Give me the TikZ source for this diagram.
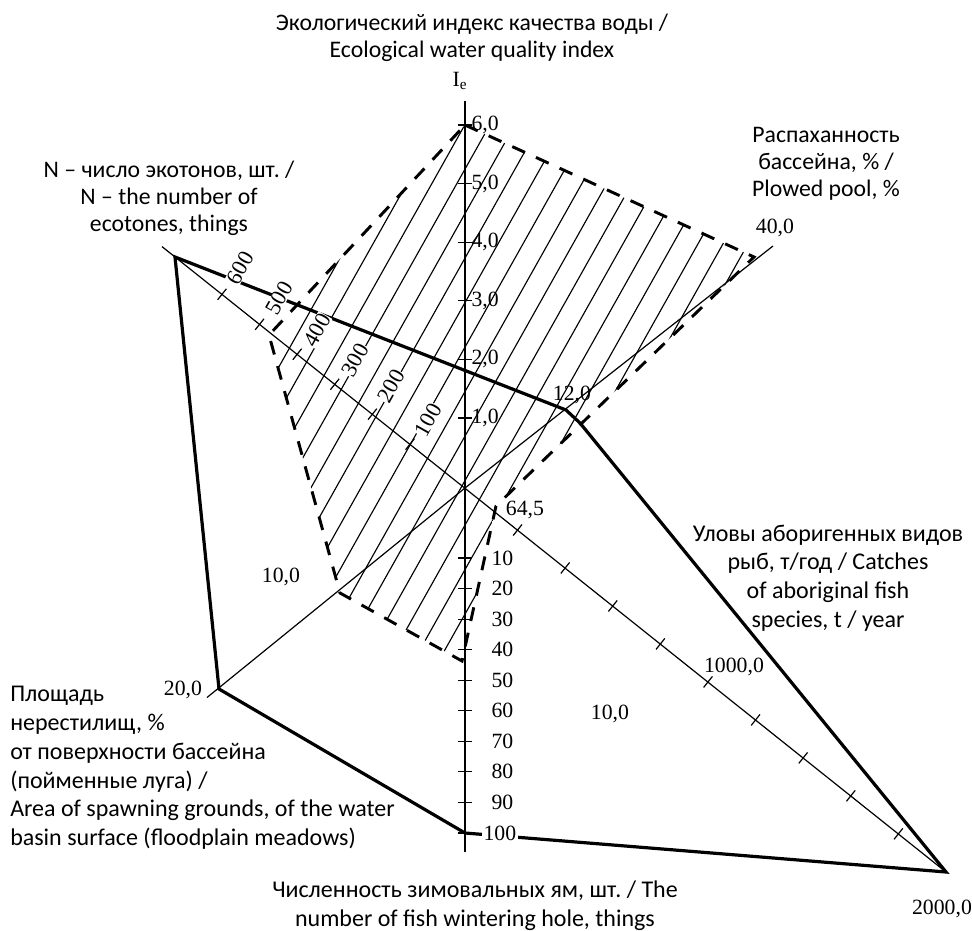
\documentclass[tikz,border=0pt]{standalone}
\usepackage{fontspec}
\setmainfont{Liberation Serif}
\newfontfamily\capfont{Carlito}
\frenchspacing
\tikzset{
    axis_line/.style = {draw=black, line width=0.9pt},
    ie_axis/.style = {draw=black, line width=1.3pt},
    data_line/.style = {draw=black, line width=2.4pt, line join=miter},
    hatch_line/.style = {draw=black, line width=0.85pt},
    zone_line/.style = {draw=black, line width=2.2pt, dash pattern=on 10.5pt off 9pt},
    tick_mark/.style = {draw=black, line width=0.9pt},
    num/.style = {inner sep=1pt, font=\fontsize{16.3}{19}\selectfont},
    wnum/.style = {num, fill=white},
    hnum/.style = {num, fill=white, rotate=60.7, inner sep=0.3pt, font=\fontsize{16.8}{19}\selectfont},
    caption/.style = {align=center, inner sep=0pt, font=\capfont\fontsize{18}{21.6}\selectfont},
    top_caption/.style = {caption, font=\capfont\fontsize{17.8}{20.2}\selectfont}
}
\begin{document}
\begin{tikzpicture}[x=0.75pt, y=-0.75pt]
            \useasboundingbox (0,0) rectangle (972,931);
            \coordinate (O) at (465,488);
            \coordinate (Ntop) at (175,257);
            \coordinate (Nend) at (162,246.6);
            \coordinate (Cend) at (946,872);
            \coordinate (Sv) at (219,689);
            \coordinate (Send) at (207,697.5);
            \coordinate (Pv) at (566,410);
            \coordinate (Pbend) at (580,423);
            \coordinate (Pend) at (773,246);
            \coordinate (Vtop) at (465,101);
            \coordinate (Vbot) at (465,852);
            \coordinate (Vh) at (465,833);
            \coordinate (Z1) at (465,125);
            \coordinate (Z2) at (754,257);
            \coordinate (Z3) at (496,506);
            \coordinate (Z4) at (462,661);
            \coordinate (Z5) at (340,593);
            \coordinate (Z6) at (269,335);
            \begin{scope}
                \clip (Z1) -- (Z2) -- (Z3) -- (Z4) -- (Z5) -- (Z6) -- cycle;
                \foreach \c in {485,510,...,885}
                    \draw[hatch_line] ({\c-80/1.78},80) -- ({\c-700/1.78},700);
            \end{scope}
            \draw[zone_line] (Z1) -- (Z2) -- (Z3) -- (Z4) -- (Z5) -- (Z6) -- cycle;
            \draw[axis_line] (Nend) -- (Cend);
            \draw[axis_line] (Send) -- (O) -- (Pend);
            \draw[ie_axis] (Vtop) -- (Vbot);
            \foreach \y in {125,183.6,242.2,300.8,359.4,418}
                \draw[tick_mark] (458,\y) -- (472,\y);
            \foreach \n in {0,...,9}
                \draw[tick_mark] (458,{558+30.55*\n}) -- (472,{558+30.55*\n});
            \foreach \x in {410,372.4,334.8,297.2,259.6,222}
                \draw[tick_mark] ({\x-4.4},{488+0.797*(\x-465)+5.5}) -- ({\x+4.4},{488+0.797*(\x-465)-5.5});
            \foreach \n in {1,...,9}
                \draw[tick_mark] ({470+47.6*\n-4.4},{488+0.798*(5+47.6*\n)+5.5}) -- ({470+47.6*\n+4.4},{488+0.798*(5+47.6*\n)-5.5});
            \draw[data_line] (Ntop) -- (Pv) -- (Pbend) -- (Cend) -- (Vh) -- (Sv) -- cycle;
            \foreach \v/\y in {1/418,2/359.4,3/300.8,4/242.2,5/183.6,6/125}
                \node[num, anchor=west] (ie\v) at (470,\y) {\v,0};
            \foreach \v [count=\n from 0] in {10,20,...,90}
                \node[num, anchor=west] (w\v) at (490,{558+30.55*\n}) {\v};
            \node[wnum, anchor=west] (w100) at (482,833) {100};
            \foreach \t/\x/\y in {600/240/268,500/279/298,400/317/330,300/355/360,200/391/386,100/428/420}
                \node[hnum] (n\t) at (\x,\y) {\t};
            \node[num] (ie) at (460,81) {I\textsubscript{e}};
            \node[num] (c64) at (525,510) {64,5};
            \node[num] (p12) at (572,395) {12,0};
            \node[num] (p40) at (775,228) {40,0};
            \node[num] (s10) at (281,577) {10,0};
            \node[num] (s20) at (183,690) {20,0};
            \node[num] (a10) at (610,714) {10,0};
            \node[num] (c1000) at (734,667) {1000,0};
            \node[num] (c2000) at (942,909) {2000,0};
            \node[top_caption] (title) at (472,38) {Экологический индекс качества воды /\\ Ecological water quality index};
            \node[top_caption] (plowed) at (826,164) {Распаханность\\ бассейна, \% /\\ Plowed pool, \%};
            \node[top_caption] (ecot) at (169,198) {N – число экотонов, шт. /\\ N – the number of\\ ecotones, things};
            \node[caption] (catch) at (828,578) {Уловы аборигенных видов\\ рыб, т/год / Catches\\ of aboriginal fish\\ species, t / year};
            \node[caption, align=left, anchor=west] (spawn) at (10,768) {Площадь\\ нерестилищ, \%\\ от поверхности бассейна\\ (пойменные луга) /\\ Area of spawning grounds, of the water\\ basin surface (floodplain meadows)};
            \node[caption] (winter) at (475,906) {Численность зимовальных ям, шт. / The\\ number of fish wintering hole, things};
        \end{tikzpicture}
\end{document}
